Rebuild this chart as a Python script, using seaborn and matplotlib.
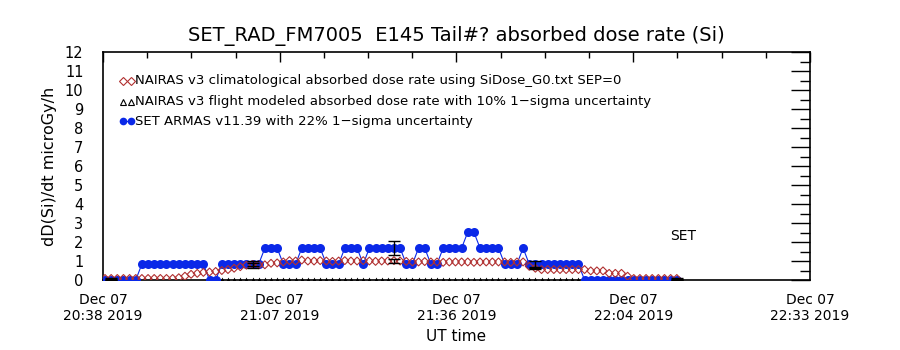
import numpy as np
import pandas as pd
import matplotlib
matplotlib.use("Agg")
import matplotlib.pyplot as plt
import seaborn as sns

# one sample per minute
start_time = "2019-12-07 20:38:20"

# SET ARMAS measured absorbed dose rate (microGy/h)
set_armas = [0, 0, 0, 0, 0, 0,
             0.84, 0.84, 0.84, 0.84, 0.84, 0.84, 0.84, 0.84, 0.84, 0.84, 0.84,
             0, 0,
             0.84, 0.84, 0.84, 0.84, 0.84, 0.84, 0.84,
             1.68, 1.68, 1.68,
             0.84, 0.84, 0.84,
             1.68, 1.68, 1.68, 1.68,
             0.84, 0.84, 0.84,
             1.68, 1.68, 1.68,
             0.84,
             1.68, 1.68, 1.68, 1.68, 1.68, 1.68,
             0.84, 0.84,
             1.68, 1.68,
             0.84, 0.84,
             1.68, 1.68, 1.68, 1.68,
             2.52, 2.52,
             1.68, 1.68, 1.68, 1.68,
             0.84, 0.84, 0.84,
             1.68,
             0.84, 0.84, 0.84, 0.84, 0.84, 0.84, 0.84, 0.84, 0.84,
             0, 0, 0, 0, 0, 0, 0, 0, 0, 0, 0, 0, 0, 0, 0, 0]

# NAIRAS v3 climatological absorbed dose rate (microGy/h)
nairas_clim = [0.08, 0.08, 0.08, 0.08, 0.08, 0.08, 0.08, 0.08, 0.08, 0.08, 0.08, 0.08,
               0.12, 0.2, 0.3, 0.35, 0.4, 0.42, 0.45, 0.5, 0.55, 0.62, 0.7, 0.78,
               0.82, 0.8, 0.8, 0.88, 0.9, 0.95, 1.02, 1.0, 1.05, 1.0, 1.0, 1.02,
               1.0, 0.98, 1.0, 1.02, 1.0, 1.0, 1.02, 1.0, 0.98, 1.0, 1.0, 1.02,
               1.0, 0.98, 0.95, 0.95, 0.97, 0.95, 0.95, 0.93, 0.95, 0.95, 0.95, 0.95,
               0.93, 0.95, 0.95, 0.95, 0.95, 0.95, 0.93, 0.95, 0.95, 0.72, 0.62, 0.55,
               0.55, 0.55, 0.55, 0.55, 0.55, 0.55, 0.55, 0.48, 0.48, 0.48, 0.35, 0.35,
               0.35, 0.2, 0.08, 0.08, 0.08, 0.08, 0.08, 0.08, 0.08, 0.08]

# NAIRAS v3 flight modeled (no values, drawn on the floor) starts at sample 19
flight_first = 19
flight_value = 0.0

# samples carrying 1-sigma error bars
err_idx = [1, 24, 47, 70, 93]
set_sigma = 0.22
model_sigma = 0.10

tick_labels = ["Dec 07\n20:38 2019", "Dec 07\n21:07 2019", "Dec 07\n21:36 2019",
               "Dec 07\n22:04 2019", "Dec 07\n22:33 2019"]

times = pd.date_range(start_time, periods=len(set_armas), freq="1min")
df = pd.DataFrame({"time": times, "set": set_armas, "clim": nairas_clim})
flight = pd.DataFrame({"time": times[flight_first:], "val": flight_value})

sns.set_style("white")
plt.rcParams["font.family"] = ["DejaVu Sans"]
plt.rcParams["text.color"] = "black"
plt.rcParams["axes.labelcolor"] = "black"
plt.rcParams["xtick.color"] = "black"
plt.rcParams["ytick.color"] = "black"

blue = "#0a28e8"
red = "#b03030"

fig = plt.figure(figsize=(9, 3.5), dpi=100)
ax = fig.add_axes([0.1144, 0.2, 0.7856, 0.651])

sns.lineplot(data=df, x="time", y="set", ax=ax, color=blue, lw=0.8,
             marker="o", markersize=6.5, markeredgewidth=0, zorder=3)
sns.scatterplot(data=df, x="time", y="clim", ax=ax, marker="D", s=16,
                facecolor="none", edgecolor=red, linewidth=0.8, zorder=4)
sns.scatterplot(data=flight, x="time", y="val", ax=ax, marker="^", s=18,
                color="black", linewidth=0, zorder=2)

et = df["time"].iloc[err_idx]
ev = df["set"].iloc[err_idx]
ax.errorbar(et, ev, yerr=ev * set_sigma, fmt="none", ecolor="black",
            elinewidth=1, capsize=4, capthick=1, zorder=6)
cv = df["clim"].iloc[err_idx]
ax.errorbar(et, cv, yerr=cv * model_sigma, fmt="none", ecolor="black",
            elinewidth=1, capsize=4, capthick=1, zorder=6)

t0 = pd.Timestamp("2019-12-07 20:38:00")
t1 = t0 + pd.Timedelta(minutes=115)
ax.set_xlim(t0, t1)
ax.set_ylim(0, 12)

major = [t0 + pd.Timedelta(minutes=28.75 * k) for k in range(5)]
minor = [t0 + pd.Timedelta(minutes=7.1875 * k) for k in range(17)]
ax.set_xticks(major)
ax.set_xticks(minor, minor=True)
ax.set_xticklabels(tick_labels, fontsize=10, linespacing=1.25)
ax.set_yticks(range(13))
ax.set_yticks(np.arange(0.5, 12, 1), minor=True)
ax.set_yticklabels([str(v) for v in range(13)], fontsize=10.5)

ax.tick_params(axis="x", which="major", direction="in", length=7, width=1,
               top=True, pad=9)
ax.tick_params(axis="x", which="minor", direction="in", length=4, width=1, top=True)
ax.tick_params(axis="y", which="major", direction="in", length=14, width=1,
               right=True, pad=14)
ax.tick_params(axis="y", which="minor", direction="in", length=7, width=1, right=True)
for s in ax.spines.values():
    s.set_color("black")
    s.set_linewidth(1.2)

ax.set_xlabel("UT time", fontsize=11, labelpad=4)
ax.set_ylabel("dD(Si)/dt microGy/h", fontsize=11.5, labelpad=6)
ax.set_title("SET_RAD_FM7005  E145 Tail#? absorbed dose rate (Si)", fontsize=14, pad=8)

# legend drawn as in the original: two markers then text
lx = [t0 + pd.Timedelta(minutes=3.3), t0 + pd.Timedelta(minutes=4.6)]
ax.plot(lx, [10.5, 10.5], ls="none", marker="D", ms=4, mfc="none",
        mec=red, mew=0.8)
ax.text(t0 + pd.Timedelta(minutes=5.2), 10.5,
        "NAIRAS v3 climatological absorbed dose rate using SiDose_G0.txt SEP=0",
        fontsize=9.5, va="center")
ax.plot(lx, [9.4, 9.4], ls="none", marker="^", ms=5, mfc="none", mec="black", mew=0.8)
ax.text(t0 + pd.Timedelta(minutes=5.2), 9.4,
        "NAIRAS v3 flight modeled absorbed dose rate with 10% 1\u2212sigma uncertainty",
        fontsize=9.5, va="center")
ax.plot(lx, [8.35, 8.35], color=blue, lw=0.9, marker="o", ms=5.5, mew=0)
ax.text(t0 + pd.Timedelta(minutes=5.2), 8.35,
        "SET ARMAS v11.39 with 22% 1\u2212sigma uncertainty",
        fontsize=9.5, va="center")

ax.text(t0 + pd.Timedelta(minutes=94.3), 2.3, "SET", fontsize=10, ha="center",
        va="center")

if ax.get_legend() is not None:
    ax.get_legend().remove()

fig.savefig("out.png", dpi=100)
